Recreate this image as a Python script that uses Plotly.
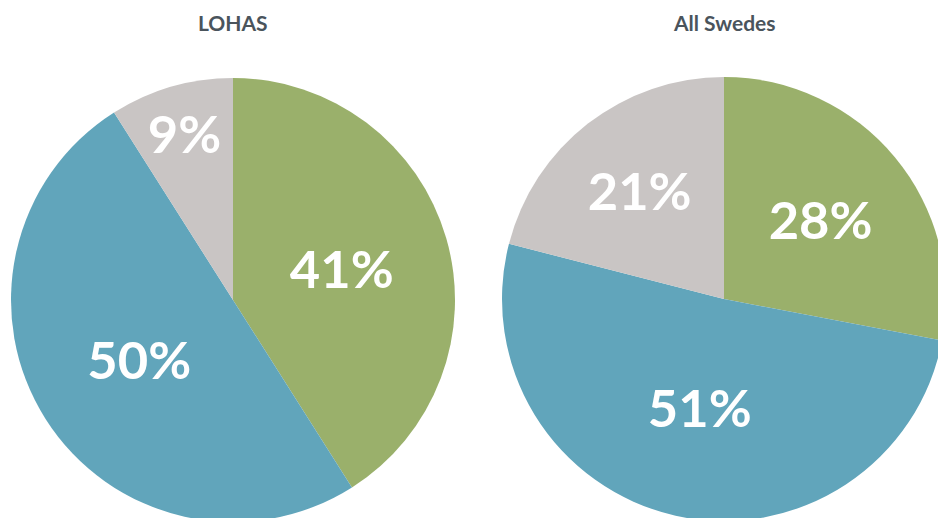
import plotly.graph_objects as go

categories = ["Green", "Blue", "Grey"]
lohas_values = [41, 50, 9]
swedes_values = [28, 51, 21]
titles = ["LOHAS", "All Swedes"]
colors = ["#9AB06B", "#61A5BB", "#C9C5C4"]

W, H = 950, 530

fig = go.Figure()
fig.add_trace(go.Pie(
    labels=categories, values=lohas_values, sort=False, direction="clockwise", rotation=0,
    marker=dict(colors=colors, line=dict(width=0)),
    texttemplate="<b>%{value}%</b>", textposition="inside", insidetextorientation="horizontal",
    textfont=dict(family="Lato", size=54, color="white"),
    domain=dict(x=[11 / W, 455 / W], y=[8 / H, 452 / H]),
    showlegend=False, hoverinfo="label+percent",
))
fig.add_trace(go.Pie(
    labels=categories, values=swedes_values, sort=False, direction="clockwise", rotation=0,
    marker=dict(colors=colors, line=dict(width=0)),
    texttemplate="<b>%{value}%</b>", textposition="inside", insidetextorientation="horizontal",
    textfont=dict(family="Lato", size=54, color="white"),
    domain=dict(x=[502 / W, 946 / W], y=[9 / H, 453 / H]),
    showlegend=False, hoverinfo="label+percent",
))

for t, cx in zip(titles, [233, 724]):
    fig.add_annotation(text="<b>%s</b>" % t, x=cx / W, y=1 - 23 / H, xref="paper", yref="paper",
                       showarrow=False, font=dict(family="Lato", size=21, color="#4A545C"),
                       xanchor="center", yanchor="middle")

fig.update_layout(width=W, height=H, margin=dict(l=0, r=0, t=0, b=0),
                  paper_bgcolor="white", plot_bgcolor="white",
                  uniformtext=dict(minsize=50, mode="show"))

fig.write_html("out.html", config={"displayModeBar": False},
               post_script="document.body.style.overflow='hidden';document.body.style.margin='0';")
